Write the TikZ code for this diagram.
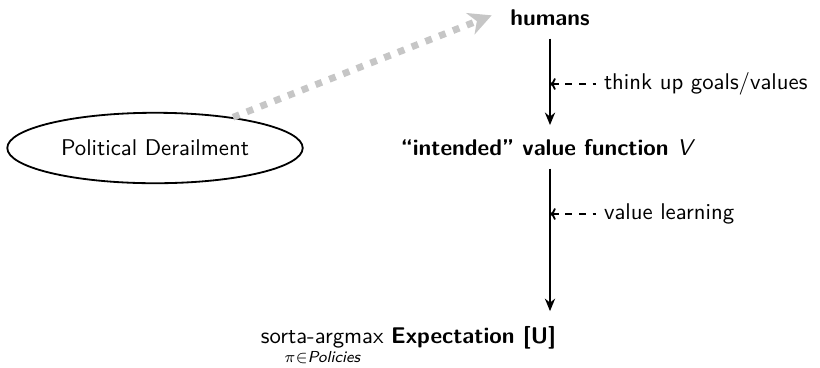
\documentclass[tikz,border=0pt]{standalone}
\usepackage{amsmath}
\usepackage{tikz}
\usetikzlibrary{shapes.geometric, arrows.meta, positioning, calc}
\renewcommand{\familydefault}{\sfdefault}

\begin{document}
\begin{tikzpicture}[
    x=0.44pt, y=-0.44pt,
    every node/.style={align=center, font=\sffamily},
    stage/.style={font=\sffamily\bfseries},
    flow/.style={thick, -{Stealth[length=5.5pt, width=4.5pt]}, shorten <=2pt, shorten >=3pt},
    hint/.style={thick, dash pattern=on 3pt off 3pt, {To[length=2.5pt]}-},
    derail/.style={draw, ellipse, thick, minimum width=130pt, minimum height=31pt, inner sep=1pt, fill=white},
    leak/.style={line width=3pt, gray!45, dash pattern=on 3pt off 3.5pt,
        -{Stealth[length=10pt, width=10pt, inset=3pt]}, shorten >=5pt}
]

    % Fixed canvas
    \useasboundingbox (0,0) rectangle (820,367);

    % Chain of stages down the middle
    \node[stage] (humans) at (550, 18) {humans};
    \node[stage] (intended) at (548, 148) {``intended'' value function \textit{\mdseries V}};
    \node[anchor=base east] (util) at (564, 343)
        {$\underset{\pi\in\textit{Policies}}{\text{sorta-argmax}}$ \textbf{Expectation [U]}};

    % Side notes
    \node[anchor=west] (goals) at (596, 84) {think up goals/values};
    \node[anchor=west] (vlearn) at (596, 214) {value learning};

    % Outside influence
    \node[derail] (pol) at (155, 148) {Political Derailment};

    % Main arrows, kept straight under the humans
    \draw[flow] (humans) -- (intended.north -| humans);
    \draw[flow] (intended.south -| humans) -- (util.north -| humans);

    % Dashed hints into the arrows
    \draw[hint] (goals.west -| humans) -- (goals.west);
    \draw[hint] (vlearn.west -| humans) -- (vlearn.west);

    % Gray dotted arrow up to the humans
    \draw[leak] (pol) -- ([yshift=3pt]humans.west);

\end{tikzpicture}
\end{document}
